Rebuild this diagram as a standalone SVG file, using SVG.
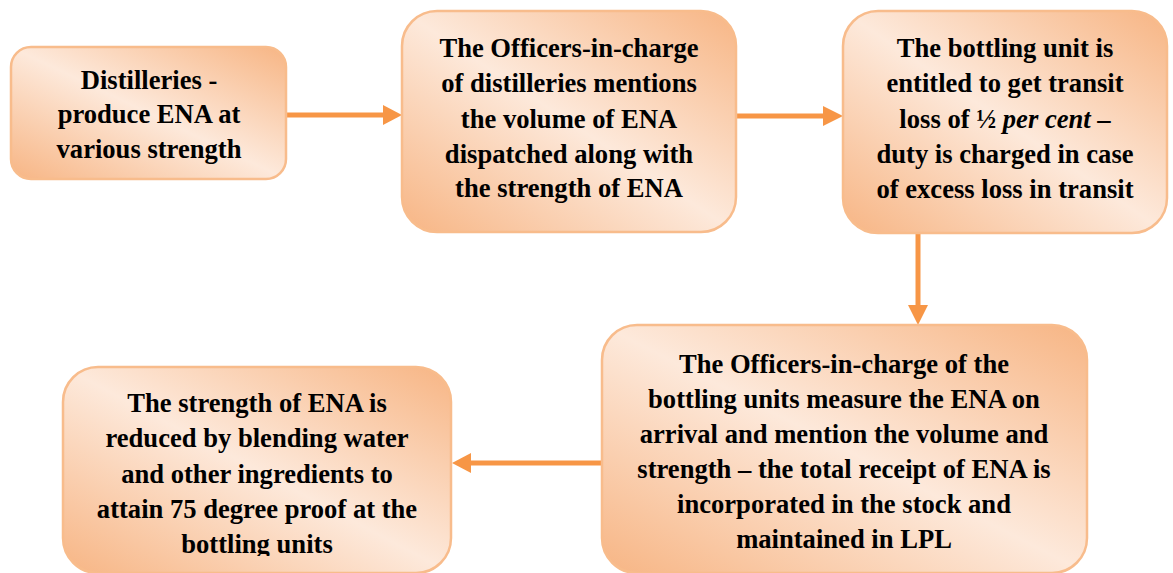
<svg xmlns="http://www.w3.org/2000/svg" width="1173" height="573" viewBox="0 0 1173 573">
<style>
.box{stroke:#F8BC8C;stroke-width:2.5}
.t{font-family:'Liberation Serif','Times New Roman',serif;font-weight:700;font-size:26.6px;fill:#000;text-anchor:middle}
.c{stroke:#F79646;stroke-width:5;fill:none}
</style>
<defs>
<linearGradient id="g" x1="1" y1="0" x2="0" y2="1">
<stop offset="0" stop-color="#F7B584"/>
<stop offset="0.5" stop-color="#FDE9DB"/>
<stop offset="1" stop-color="#F7B584"/>
</linearGradient>
<clipPath id="clip4"><rect x="60" y="360" width="400" height="196"/></clipPath>
</defs>
<g id="connectors">
<path class="c" d="M286,115 H384"/>
<path d="M383,105 L402,115 L383,125 Z" fill="#F79646"/>
<path class="c" d="M736,116 H824"/>
<path d="M823,106 L843,116 L823,126 Z" fill="#F79646"/>
<path class="c" d="M918,233 V306"/>
<path d="M908,305 L918,325 L928,305 Z" fill="#F79646"/>
<path class="c" d="M602,463 H470"/>
<path d="M471,453 L452,463 L471,473 Z" fill="#F79646"/>
</g>
<g id="n1">
<rect class="box" x="11" y="47" width="275" height="132" rx="20" fill="url(#g)"/>
<text class="t" x="149" y="89">Distilleries -</text>
<text class="t" x="149" y="123">produce ENA at</text>
<text class="t" x="149" y="158">various strength</text>
</g>
<g id="n2">
<rect class="box" x="402" y="11" width="334" height="221" rx="35" fill="url(#g)"/>
<text class="t" x="569" y="57">The Officers-in-charge</text>
<text class="t" x="569" y="92">of distilleries mentions</text>
<text class="t" x="569" y="128">the volume of ENA</text>
<text class="t" x="569" y="163">dispatched along with</text>
<text class="t" x="569" y="197">the strength of ENA</text>
</g>
<g id="n3">
<rect class="box" x="843" y="11" width="324" height="222" rx="35" fill="url(#g)"/>
<text class="t" x="1005" y="57">The bottling unit is</text>
<text class="t" x="1005" y="92">entitled to get transit</text>
<text class="t" x="1005" y="128">loss of ½ <tspan font-style="italic">per cent</tspan> –</text>
<text class="t" x="1005" y="163">duty is charged in case</text>
<text class="t" x="1005" y="198">of excess loss in transit</text>
</g>
<g id="n4">
<rect class="box" x="63" y="367" width="388" height="206" rx="35" fill="url(#g)"/>
<g clip-path="url(#clip4)">
<text class="t" x="257" y="412">The strength of ENA is</text>
<text class="t" x="257" y="447">reduced by blending water</text>
<text class="t" x="257" y="483">and other ingredients to</text>
<text class="t" x="257" y="518">attain 75 degree proof at the</text>
<text class="t" x="257" y="553">bottling units</text>
</g>
</g>
<g id="n5">
<rect class="box" x="602" y="325" width="485" height="248" rx="35" fill="url(#g)"/>
<text class="t" x="844" y="373">The Officers-in-charge of the</text>
<text class="t" x="844" y="408">bottling units measure the ENA on</text>
<text class="t" x="844" y="443">arrival and mention the volume and</text>
<text class="t" x="844" y="478">strength – the total receipt of ENA is</text>
<text class="t" x="844" y="513">incorporated in the stock and</text>
<text class="t" x="844" y="548">maintained in LPL</text>
</g>
</svg>
